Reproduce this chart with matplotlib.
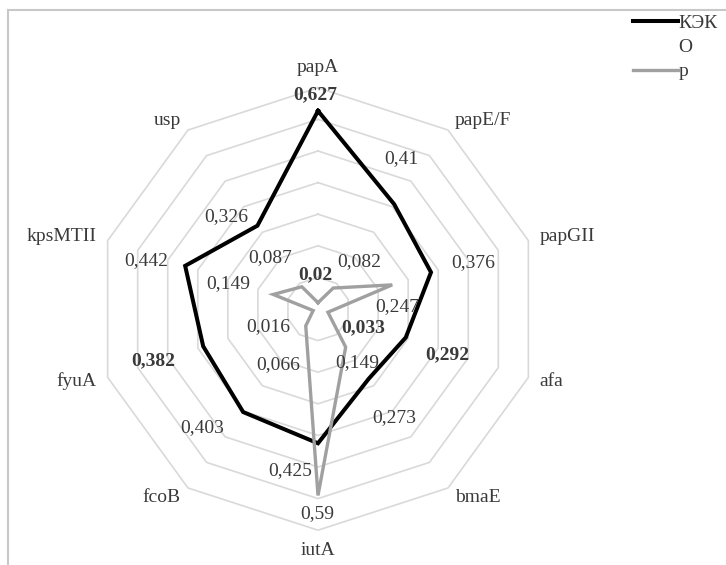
import numpy as np
import matplotlib
matplotlib.use("Agg")
import matplotlib.pyplot as plt
from matplotlib.lines import Line2D
from matplotlib.patches import Rectangle

plt.rcParams['font.family'] = ['Liberation Serif', 'DejaVu Serif']

# данные
categories = ['papA', 'papE/F', 'papGII', 'afa', 'bmaE', 'iutA', 'fcoB', 'fyuA', 'kpsMTII', 'usp']
kek = [0.627, 0.41, 0.376, 0.292, 0.273, 0.425, 0.403, 0.382, 0.442, 0.326]
p_vals = [0.02, 0.082, 0.247, 0.033, 0.149, 0.59, 0.066, 0.016, 0.149, 0.087]
series_names = ['КЭК', 'О', 'р']
kek_bold = [True, False, False, True, False, False, False, True, False, False]
p_bold = [True, False, False, True, False, False, False, False, False, False]

# смещения подписей значений (пиксели)
kek_off = [(-3, 16), (7, 46), (42, 10), (42, -17), (26, -39), (-28, -27), (-41, -16), (-50, -14), (-39, 5), (-31, 9)]
p_off = [(-3, 28), (26, 26), (5, -22), (35, -16), (12, -16), (-1, -18), (-28, -39), (-45, -16), (-45, 11), (-32, 29)]

n = len(categories)
ang = np.arange(n) * 2 * np.pi / n


def xy(vals):
    v = np.asarray(vals)
    x = v * np.sin(ang)
    y = v * np.cos(ang)
    return np.append(x, x[0]), np.append(y, y[0])


W, H = 726, 565
cx, cy, s = 318, 309, 316
fig = plt.figure(figsize=(W / 100, H / 100), dpi=100)
ax = fig.add_axes([0, 0, 1, 1])
ax.set_xlim(-cx / s, (W - cx) / s)
ax.set_ylim(-(H - cy) / s, cy / s)
ax.axis('off')

# кольца сетки
for r in np.arange(0.1, 0.71, 0.1):
    gx, gy = xy([r] * n)
    ax.plot(gx, gy, color='#d9d9d9', lw=1.2, zorder=1)

kx, ky = xy(kek)
ax.plot(kx, ky, color='black', lw=2.9, zorder=3, solid_joinstyle='miter')
px_, py_ = xy(p_vals)
ax.plot(px_, py_, color='#a0a0a0', lw=2.4, zorder=4, solid_joinstyle='miter')

txt = '#3a3a3a'
for vals, offs, bold in [(kek, kek_off, kek_bold), (p_vals, p_off, p_bold)]:
    for i, v in enumerate(vals):
        ax.annotate(f"{v:g}".replace('.', ','), (v * np.sin(ang[i]), v * np.cos(ang[i])),
                    xytext=offs[i], textcoords='offset pixels', ha='center', va='center',
                    fontsize=14, color=txt, fontweight='bold' if bold[i] else 'normal', zorder=5)

# подписи категорий
for i, c in enumerate(categories):
    sx, sy = np.sin(ang[i]), np.cos(ang[i])
    ha = 'left' if sx > 0.1 else ('right' if sx < -0.1 else 'center')
    va = 'center'
    if abs(sx) < 0.1:
        va = 'bottom' if sy > 0 else 'top'
    ax.annotate(c, (0.7 * sx, 0.7 * sy), xytext=(12 * sx, 12 * sy), textcoords='offset pixels',
                ha=ha, va=va, fontsize=14, color=txt)

# рамка
fig.patches.append(Rectangle((7.5 / W, -0.1), 1.2, (H - 10) / H + 0.1, transform=fig.transFigure,
                             fill=False, ec='#c8c8c8', lw=1.5))

handles = [Line2D([], [], color='black', lw=2.9),
           Line2D([], [], color='none', lw=2.9),
           Line2D([], [], color='#a0a0a0', lw=2.4)]
fig.legend(handles, series_names, loc='upper left', bbox_to_anchor=(633 / W, 1 - 14 / H),
           frameon=False, borderpad=0, borderaxespad=0, handlelength=2.3, handletextpad=0.05,
           labelspacing=0.35, fontsize=14, labelcolor=txt)

fig.savefig('out.png', dpi=100)
